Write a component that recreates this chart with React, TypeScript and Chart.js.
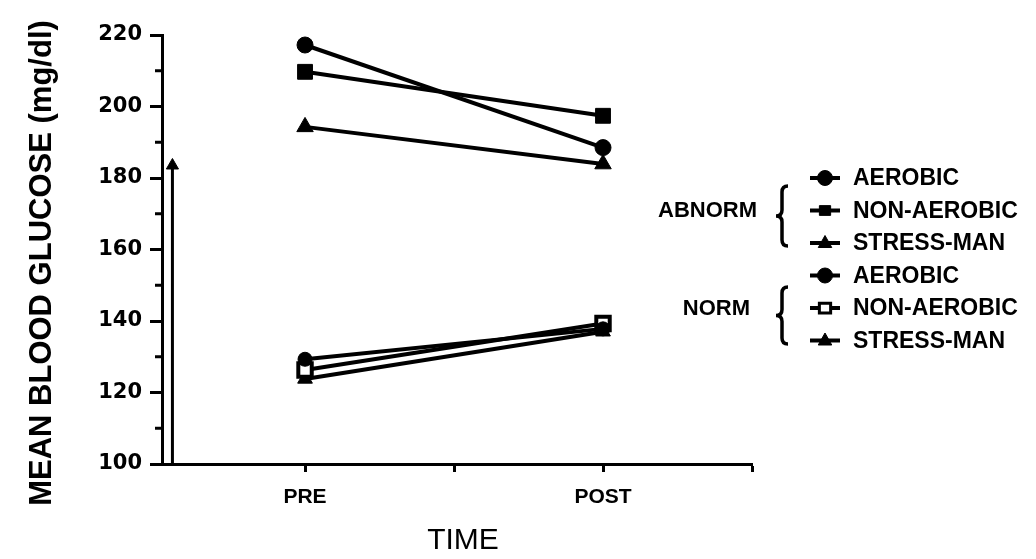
import React, { useEffect, useRef } from "react";
import { Chart, registerables } from "chart.js";

Chart.register(...registerables);

// ---------- data ----------
const timePositions = [1, 3];
const xTickPositions = [1, 2, 3, 4];
const xTickLabels = ["PRE", "", "POST", ""];
const yTicksMajor = [100, 120, 140, 160, 180, 200, 220];
const yTicksMinor = [110, 130, 150, 170, 190, 210];

const abnormAerobic = [217.2, 188.5];
const abnormNonAerobic = [209.7, 197.4];
const abnormStress = [194.3, 183.9];
const normAerobic = [129.3, 137.8];
const normNonAerobic = [126.3, 139.3];
const normStress = [123.8, 137.0];

const arrowX = [0.11, 0.11];
const arrowY = [100, 183.5];

const groupLabels = ["ABNORM", "NORM"];
const seriesLabels = ["AEROBIC", "NON-AEROBIC", "STRESS-MAN"];
const yTitle = "MEAN BLOOD GLUCOSE (mg/dl)";
const xTitle = "TIME";

const FONT = "'Liberation Sans', Arial, sans-serif";

type Mk = { style: string; fill: string };
const markers: Mk[] = [
  { style: "circle", fill: "#000" },
  { style: "rect", fill: "#000" },
  { style: "triangle", fill: "#000" },
  { style: "circle", fill: "#000" },
  { style: "rect", fill: "#fff" },
  { style: "triangle", fill: "#000" },
];

function drawMarker(ctx: CanvasRenderingContext2D, style: string, x: number, y: number, r: number, fill: string) {
  ctx.save();
  ctx.fillStyle = fill;
  ctx.strokeStyle = "#000";
  ctx.lineWidth = fill === "#fff" ? 3 : 1;
  ctx.beginPath();
  if (style === "circle") {
    ctx.arc(x, y, r, 0, Math.PI * 2);
  } else if (style === "rect") {
    ctx.rect(x - r * 0.75, y - r * 0.65, r * 1.5, r * 1.3);
  } else {
    ctx.moveTo(x, y - r);
    ctx.lineTo(x + r * 0.9, y + r * 0.6);
    ctx.lineTo(x - r * 0.9, y + r * 0.6);
    ctx.closePath();
  }
  ctx.fill();
  ctx.stroke();
  ctx.restore();
}

function drawBrace(ctx: CanvasRenderingContext2D, x: number, top: number, bottom: number) {
  const mid = (top + bottom) / 2;
  ctx.save();
  ctx.strokeStyle = "#000";
  ctx.lineWidth = 3.5;
  ctx.beginPath();
  ctx.moveTo(x + 6, top);
  ctx.quadraticCurveTo(x, top, x, top + 6);
  ctx.lineTo(x, mid - 6);
  ctx.quadraticCurveTo(x, mid, x - 6, mid);
  ctx.quadraticCurveTo(x, mid, x, mid + 6);
  ctx.lineTo(x, bottom - 6);
  ctx.quadraticCurveTo(x, bottom, x + 6, bottom);
  ctx.stroke();
  ctx.restore();
}

const annotPlugin = {
  id: "annot",
  afterDraw(chart: any) {
    const ctx: CanvasRenderingContext2D = chart.ctx;
    const ys = chart.scales.y;
    const left = chart.chartArea.left;
    ctx.save();
    // minor y ticks
    ctx.strokeStyle = "#000";
    ctx.lineWidth = 3;
    yTicksMinor.forEach((v) => {
      const py = ys.getPixelForValue(v);
      ctx.beginPath();
      ctx.moveTo(left - 7, py);
      ctx.lineTo(left, py);
      ctx.stroke();
    });
    // y title
    ctx.fillStyle = "#000";
    ctx.save();
    ctx.translate(42, 263);
    ctx.rotate(-Math.PI / 2);
    ctx.font = `bold 31px ${FONT}`;
    ctx.textAlign = "center";
    ctx.textBaseline = "middle";
    ctx.fillText(yTitle, 0, 0);
    ctx.restore();
    // x title
    ctx.font = `30px ${FONT}`;
    ctx.textAlign = "center";
    ctx.textBaseline = "middle";
    ctx.fillText(xTitle, 463, 541);

    // legend
    const rows = [178, 210.5, 243, 275.5, 308, 340.5];
    ctx.font = `bold 23px ${FONT}`;
    ctx.textAlign = "left";
    rows.forEach((ry, i) => {
      ctx.strokeStyle = "#000";
      ctx.lineWidth = 4;
      ctx.beginPath();
      ctx.moveTo(810, ry);
      ctx.lineTo(840, ry);
      ctx.stroke();
      const mk = markers[i];
      drawMarker(ctx, mk.style, 825, ry, 7.5, mk.fill);
      ctx.fillStyle = "#000";
      ctx.fillText(seriesLabels[i % 3], 853, ry + 1);
    });
    ctx.textAlign = "right";
    ctx.font = `bold 22px ${FONT}`;
    ctx.fillText(groupLabels[0], 757, 211);
    ctx.fillText(groupLabels[1], 750, 309);
    drawBrace(ctx, 782, 186, 246);
    drawBrace(ctx, 782, 287, 344);
    ctx.restore();
  },
};

function series(vals: number[], style: string, radius: number, fill: string) {
  return {
    data: timePositions.map((x, i) => ({ x, y: vals[i] })),
    borderColor: "#000",
    borderWidth: 4,
    pointStyle: style,
    pointRadius: radius,
    pointBackgroundColor: fill,
    pointBorderColor: "#000",
    pointBorderWidth: fill === "#fff" ? 4 : 1,
    clip: false as any,
  };
}

export default function App() {
  const ref = useRef<HTMLCanvasElement>(null);
  useEffect(() => {
    document.body.style.margin = "0";
    const chart = new Chart(ref.current!, {
      type: "line",
      data: {
        datasets: [
          series(abnormAerobic, "circle", 8, "#000"),
          series(abnormNonAerobic, "rect", 10.5, "#000"),
          series(abnormStress, "triangle", 9.5, "#000"),
          series(normAerobic, "circle", 7, "#000"),
          series(normNonAerobic, "rect", 9.5, "#fff"),
          series(normStress, "triangle", 8.5, "#000"),
          {
            data: arrowX.map((x, i) => ({ x, y: arrowY[i] })),
            borderColor: "#000",
            borderWidth: 3,
            pointStyle: "triangle",
            pointRadius: [0, 7],
            pointBackgroundColor: "#000",
            pointBorderColor: "#000",
            pointBorderWidth: 1,
            clip: false as any,
          } as any,
        ],
      },
      options: {
        animation: false,
        responsive: false,
        devicePixelRatio: 1,
        layout: { padding: { left: 0, top: 35, right: 284, bottom: 0 } },
        plugins: { legend: { display: false }, tooltip: { enabled: false } },
        scales: {
          x: {
            type: "linear",
            min: 0.04,
            max: 4,
            afterBuildTicks: (s: any) => {
              s.ticks = xTickPositions.map((v) => ({ value: v }));
            },
            afterFit: (s: any) => {
              s.height = 95;
            },
            ticks: {
              callback: (_v: any, i: number) => xTickLabels[i],
              font: { family: FONT, size: 21, weight: "bold" },
              color: "#000",
              padding: 13,
              maxRotation: 0,
              autoSkip: false,
            },
            grid: { drawOnChartArea: false, tickLength: 8, tickWidth: 3, tickColor: "#000", color: "#000" },
            border: { display: true, color: "#000", width: 3 },
          },
          y: {
            type: "linear",
            min: 100,
            max: 220,
            afterBuildTicks: (s: any) => {
              s.ticks = yTicksMajor.map((v) => ({ value: v }));
            },
            afterFit: (s: any) => {
              s.width = 162;
            },
            ticks: {
              font: { family: "'DejaVu Sans', sans-serif", weight: "bold", size: 21 },
              color: "#000",
              padding: 8,
            },
            grid: { drawOnChartArea: false, tickLength: 12, tickWidth: 3, tickColor: "#000", color: "#000" },
            border: { display: true, color: "#000", width: 3 },
          },
        },
      },
      plugins: [annotPlugin],
    } as any);
    return () => chart.destroy();
  }, []);
  return (
    <div style={{ width: 1036, height: 559 }}>
      <canvas ref={ref} width={1036} height={559} />
    </div>
  );
}
